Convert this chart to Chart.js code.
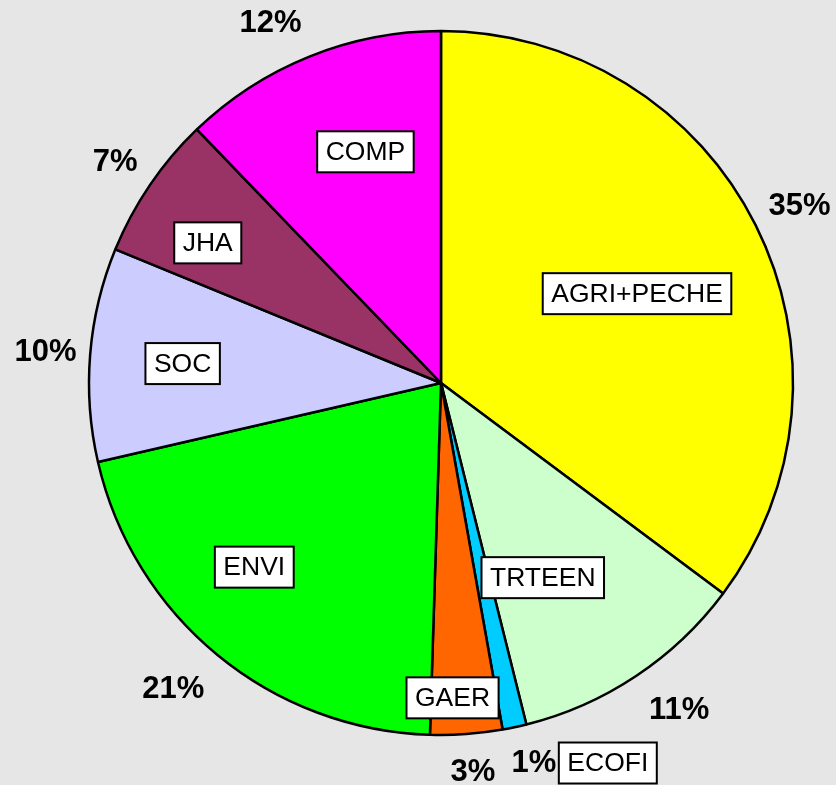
<!DOCTYPE html>
<html>
<head>
<meta charset="utf-8">
<script src="https://cdn.jsdelivr.net/npm/chart.js@4"></script>
<style>
  html, body { margin: 0; padding: 0; background: #e6e6e6; }
  #wrap { width: 836px; height: 785px; position: relative; }
</style>
</head>
<body>
<div id="wrap"><canvas id="c" width="836" height="785"></canvas></div>
<script>
// ---- data ----
const categories = ["AGRI+PECHE", "TRTEEN", "ECOFI", "GAER", "ENVI", "SOC", "JHA", "COMP"];
const shares = [35.2, 10.9, 1.1, 3.3, 20.9, 9.8, 6.6, 12.2];
const sliceColors = ["#ffff00", "#ccffcc", "#00ccff", "#ff6600", "#00ff00", "#ccccff", "#993366", "#ff00ff"];

// ---- label layout (polar: radius factor, angle in degrees clockwise from top) ----
const nameLayout = [[0.612, 65.5], [0.624, 152.4], [1.179, 156.3], [0.895, 177.9],
                    [0.745, 225.4], [0.736, 274.3], [0.773, 301.0], [0.691, 341.9]];
const pctLayout  = [[1.137, 63.6], [1.148, 143.9], [1.111, 166.25], [1.106, 175.3],
                    [1.155, 221.2], [1.127, 274.6], [1.119, 304.2], [1.133, 334.7]];

const labelPlugin = {
  id: 'sliceLabels',
  afterDatasetsDraw(chart) {
    const ctx = chart.ctx;
    const meta = chart.getDatasetMeta(0);
    const total = shares.reduce((a, b) => a + b, 0);
    meta.data.forEach((arc, i) => {
      const cx = arc.x, cy = arc.y, r = arc.outerRadius;
      const pos = (lay) => {
        const a = lay[1] * Math.PI / 180;
        return [cx + lay[0] * r * Math.sin(a), cy - lay[0] * r * Math.cos(a)];
      };
      // percentage label
      const [px, py] = pos(pctLayout[i]);
      ctx.save();
      ctx.font = 'bold 31px "Liberation Sans", Arial, sans-serif';
      ctx.fillStyle = '#000';
      ctx.textAlign = 'center';
      ctx.textBaseline = 'middle';
      ctx.fillText(Math.round(shares[i] / total * 100) + '%', px, py + 1);
      // category label box
      const [nx, ny] = pos(nameLayout[i]);
      ctx.font = '26.5px "Liberation Sans", Arial, sans-serif';
      const w = ctx.measureText(categories[i]).width + 17;
      const h = 41;
      ctx.fillStyle = '#ffffff';
      ctx.fillRect(nx - w / 2, ny - h / 2, w, h);
      ctx.strokeStyle = '#000';
      ctx.lineWidth = 2;
      ctx.strokeRect(nx - w / 2, ny - h / 2, w, h);
      ctx.fillStyle = '#000';
      ctx.fillText(categories[i], nx, ny + 1);
      ctx.restore();
    });
  }
};

new Chart(document.getElementById('c'), {
  type: 'pie',
  data: {
    labels: categories,
    datasets: [{
      data: shares,
      backgroundColor: sliceColors,
      borderColor: '#000000',
      borderWidth: 2.5,
      borderAlign: 'center'
    }]
  },
  options: {
    responsive: false,
    animation: false,
    radius: 352,
    layout: { padding: { left: 88, right: 42, top: 30, bottom: 49 } },
    plugins: { legend: { display: false }, tooltip: { enabled: false } }
  },
  plugins: [labelPlugin]
});
</script>
</body>
</html>
